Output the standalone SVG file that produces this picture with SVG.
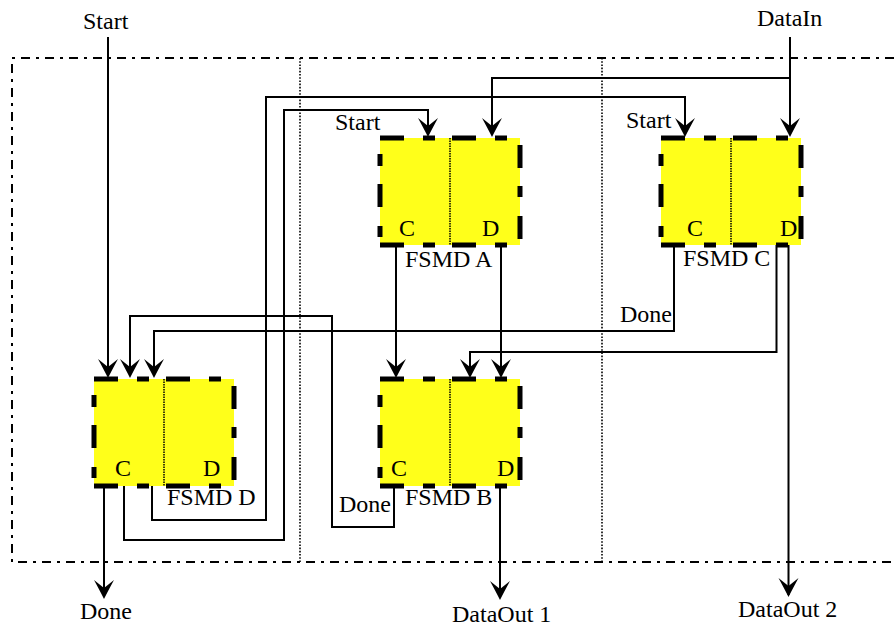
<svg xmlns="http://www.w3.org/2000/svg" width="894" height="629" viewBox="0 0 894 629">
<style>
text{font-family:"Liberation Serif","Times New Roman",serif;font-size:24px;fill:#000}
.fill{fill:#ffff1a;stroke:none}
.e{fill:none;stroke:#000;stroke-width:5}
.hc{stroke-dasharray:24 19 12 15}
.hd{stroke-dasharray:24 19 12 13}
.el{stroke-dasharray:0 16 12 18 23 19 11 8}
.er{stroke-dasharray:0 7 23 18 11 19 23 6}
.div{fill:none;stroke:#000;stroke-width:1.5;stroke-dasharray:1.5 1}
.frame{fill:none;stroke:#000;stroke-width:2;stroke-dasharray:9 6 3 6}
.sep{fill:none;stroke:#000;stroke-width:1.6;stroke-dasharray:1.6 1.6}
.w{fill:none;stroke:#000;stroke-width:2;marker-end:url(#ah)}
</style>
<defs>
<marker id="ah" markerUnits="userSpaceOnUse" viewBox="-21 -12 23 24" markerWidth="23" markerHeight="24" refX="-2" refY="0" orient="auto">
<path d="M0,0 Q-8,-4 -19,-10 L-11,0 L-19,10 Q-8,4 0,0 Z" fill="#000"/>
</marker>
<g id="box">
<rect class="fill" x="0" y="0" width="140" height="107"/>
<path class="e hc" d="M0,0 H70"/>
<path class="e hd" d="M72,0 H140"/>
<path class="e hc" d="M0,107 H70"/>
<path class="e hd" d="M72,107 H140"/>
<path class="e el" d="M0,0 V107"/>
<path class="e er" d="M140,0 V107"/>
<path class="div" d="M70,0 V107"/>
</g>
</defs>
<g id="frame">
<path class="frame" d="M894,58 H12 V562 H894"/>
<path class="sep" d="M300,58 V562"/>
<path class="sep" d="M602,58 V562"/>
</g>
<g id="fsmd-a">
<use href="#box" x="380" y="138"/>
<text x="399" y="236">C</text>
<text x="482" y="236">D</text>
<text x="405" y="267">FSMD A</text>
</g>
<g id="fsmd-c">
<use href="#box" x="661" y="138"/>
<text x="687" y="236">C</text>
<text x="780" y="236">D</text>
<text x="683" y="266">FSMD C</text>
</g>
<g id="fsmd-d">
<use href="#box" x="94" y="379"/>
<text x="115" y="476">C</text>
<text x="203" y="476">D</text>
<text x="167" y="505">FSMD D</text>
</g>
<g id="fsmd-b">
<use href="#box" x="380" y="379"/>
<text x="391" y="476">C</text>
<text x="497" y="476">D</text>
<text x="405" y="505">FSMD B</text>
</g>
<g id="connectors">
<path class="w" d="M108,37 V376"/>
<path class="w" d="M790,37 V135"/>
<path class="w" d="M790,78 H492 V135"/>
<path class="w" d="M152,486 V520 H266 V97 H685 V135"/>
<path class="w" d="M124,486 V540 H284 V110 H428 V135"/>
<path class="w" d="M394,486 V527 H332 V316 H130 V376"/>
<path class="w" d="M674,245 V331 H154 V376"/>
<path class="w" d="M396,245 V376"/>
<path class="w" d="M501,245 V376"/>
<path class="w" d="M776.5,245 V352 H470 V376"/>
<path class="w" d="M788.5,245 V595"/>
<path class="w" d="M500,486 V598"/>
<path class="w" d="M104,486 V597"/>
</g>
<g id="labels">
<text x="83" y="29">Start</text>
<text x="757" y="26">DataIn</text>
<text x="335" y="130">Start</text>
<text x="626" y="128">Start</text>
<text x="620" y="322">Done</text>
<text x="339" y="512">Done</text>
<text x="80" y="619">Done</text>
<text x="452" y="622">DataOut 1</text>
<text x="738" y="617">DataOut 2</text>
</g>
</svg>
